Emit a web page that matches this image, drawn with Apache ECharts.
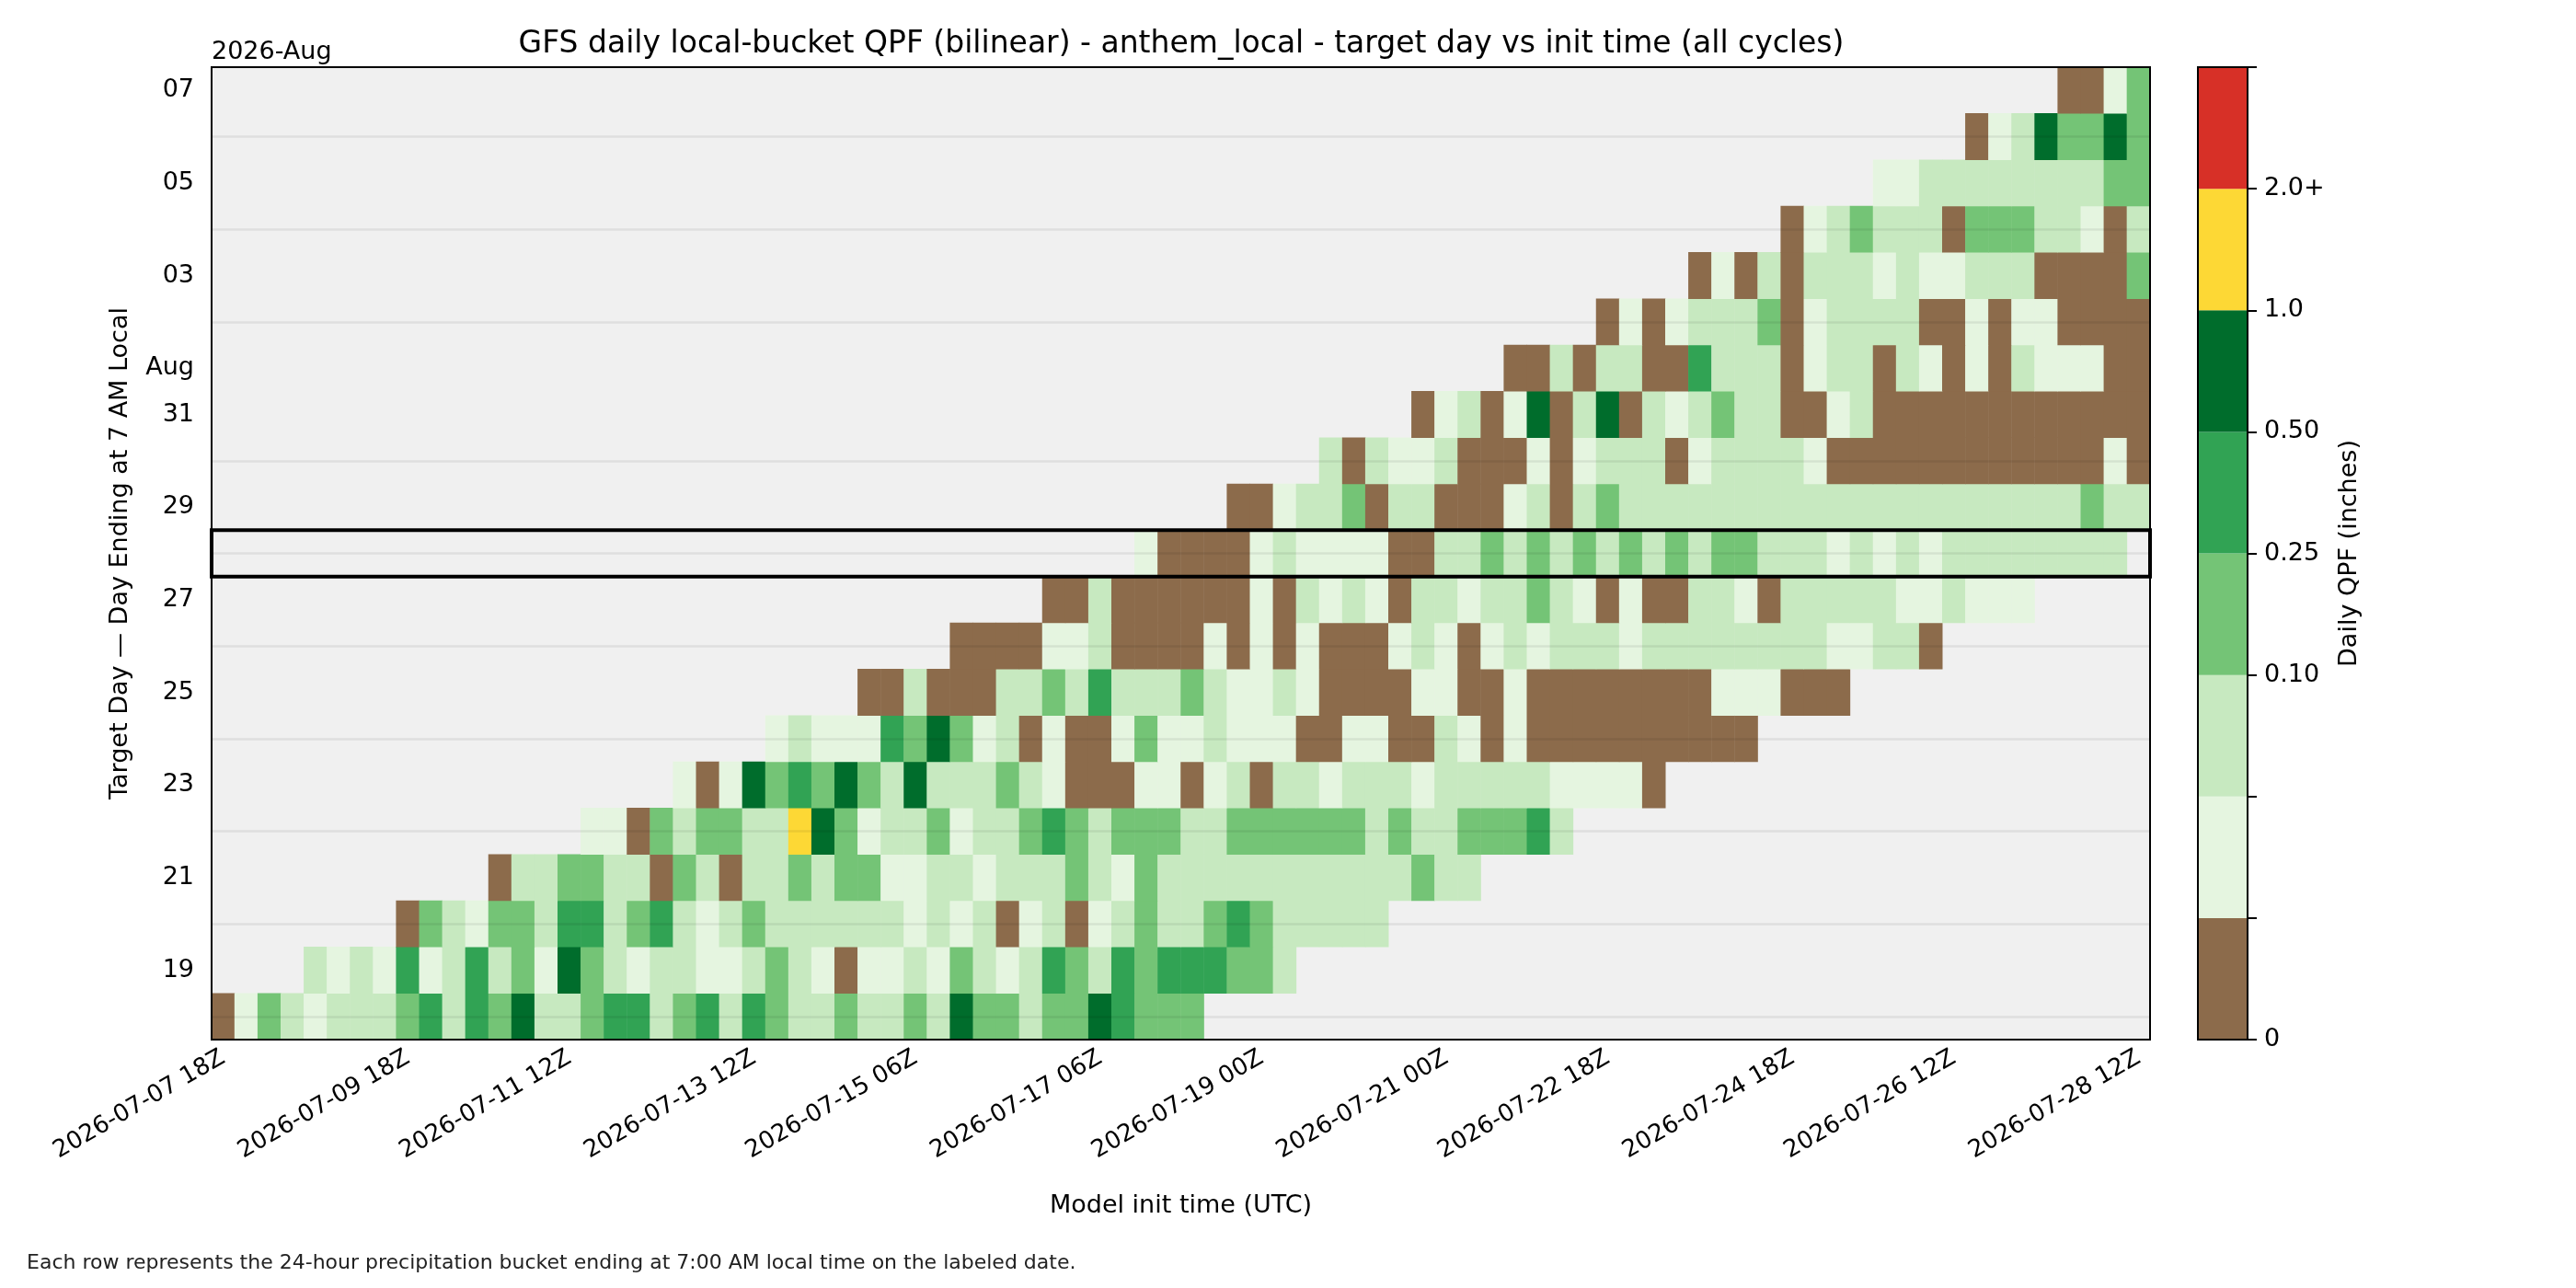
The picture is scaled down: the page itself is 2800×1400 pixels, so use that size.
<!DOCTYPE html>
<html>
<head>
<meta charset="utf-8">
<script src="https://cdn.jsdelivr.net/npm/echarts@6/dist/echarts.min.js"></script>
<style>
  html, body { margin: 0; padding: 0; background: #fff; }
  #chart { width: 2800px; height: 1400px; }
</style>
</head>
<body>
<div id="chart"></div>
<script>
// model init cycles (6-hourly), 2026-07-07 18Z .. 2026-07-28 12Z
var firstInit = Date.UTC(2026, 6, 7, 18);
var nCycles = 84;
var initTimes = [];
function pad2(n) { return (n < 10 ? '0' : '') + n; }
for (var i = 0; i < nCycles; i++) {
  var d = new Date(firstInit + i * 6 * 3600 * 1000);
  initTimes.push(d.getUTCFullYear() + '-' + pad2(d.getUTCMonth() + 1) + '-' + pad2(d.getUTCDate()) + ' ' + pad2(d.getUTCHours()) + 'Z');
}

var xTickLabels = ['2026-07-07 18Z', '2026-07-09 18Z', '2026-07-11 12Z', '2026-07-13 12Z',
  '2026-07-15 06Z', '2026-07-17 06Z', '2026-07-19 00Z', '2026-07-21 00Z',
  '2026-07-22 18Z', '2026-07-24 18Z', '2026-07-26 12Z', '2026-07-28 12Z'];

var targetDays = ['07-18', '07-19', '07-20', '07-21', '07-22', '07-23', '07-24', '07-25',
  '07-26', '07-27', '07-28', '07-29', '07-30', '07-31', '08-01', '08-02', '08-03',
  '08-04', '08-05', '08-06', '08-07'];

var dayTickText = {
  '07-19': '19', '07-21': '21', '07-23': '23', '07-25': '25', '07-27': '27',
  '07-29': '29', '07-31': '31', '08-01': 'Aug', '08-03': '03', '08-05': '05', '08-07': '07'
};

var highlightDay = '07-28';

// first init-cycle column that has a value, one per target day
var rowStart = [0, 4, 8, 12, 16, 20, 24, 28, 32, 36, 40, 44, 48, 52, 56, 60, 64, 68, 72, 76, 80];

// QPF bucket per cell, read left to right from rowStart (B = 0/trace, 1..6 = bins below)
var rowCodes = [
  'B1321 22234 24352 23442 34243 22322 32533 23354 333',
  '21214 12423 15321 22112 321B1 12132 12432 43444 332',
  'B3213 32442 34212 32222 22121 2B12B 12322 34322 222',
  'B2233 22B32 B2232 33112 21222 32132 22222 22222 322',
  '11B32 33226 53122 31223 43233 32233 33332 32233 342',
  '1B153 43532 52223 21BBB 11B12 B2212 22122 22211 11B',
  '12111 43531 2B1BB 13112 111BB 11BB2 1B1BB BBBBB BBB',
  'BB2BB B2232 42223 21121 BBBB1 1BB1B BBBBB BB111 BBB',
  'BBBB1 12BBB B1B1B 1BBB1 21B12 12221 22222 22211 22B',
  'BB2BB BBBB1 B2121 B2212 2321B 1BB22 1B222 22112 111',
  '1BBBB 12111 1BB22 32323 23232 33222 12121 22222 222',
  'BB122 3B22B BB12B 23222 22222 22222 22222 22322',
  '2B211 2BBB1 B1222 B1222 21BBB BBBBB BBBB1 B',
  'B12B1 5B25B 21232 2BB12 BBBBB BBBBB BB',
  'BB2B2 2BB42 22B12 2B21B 1B211 1BB',
  'B1B12 223B1 2222B B1B11 BBBB',
  'B1B2B 22212 11222 BBBB3',
  'B1232 22B33 3221B 2',
  '11222 22222 33',
  'B1253 353',
  'BB13'
];

// representative daily QPF (inches) for each bucket code
var codeValue = { 'B': 0, '1': 0.03, '2': 0.07, '3': 0.17, '4': 0.35, '5': 0.7, '6': 1.4 };

var binEdges = [0, 0.01, 0.05, 0.10, 0.25, 0.50, 1.0, 2.0];
var binColors = ['#8c6b4b', '#e5f5e0', '#c7e9c0', '#74c476', '#31a354', '#006d2c', '#fdd835', '#d73027'];
var cbTickText = ['0', '', '', '0.10', '0.25', '0.50', '1.0', '2.0+', ''];

var cells = [];
rowCodes.forEach(function (row, k) {
  var codes = row.replace(/ /g, '');
  for (var j = 0; j < codes.length; j++) {
    cells.push([rowStart[k] + j, k, codeValue[codes[j]]]);
  }
});

var pieces = binColors.map(function (c, i) {
  var p = { gte: binEdges[i], color: c };
  if (i + 1 < binEdges.length) p.lt = binEdges[i + 1];
  return p;
});

var gridLineDays = targetDays.filter(function (d) { return !(d in dayTickText); });

var FONT = 'DejaVu Sans';
var chart = echarts.init(document.getElementById('chart'), null, { renderer: 'canvas' });

var cbSeries = binColors.map(function (c) {
  return {
    type: 'bar', xAxisIndex: 1, yAxisIndex: 2, stack: 'cb', data: [1],
    barWidth: '100%', itemStyle: { color: c }, silent: true
  };
});

var option = {
  animation: false,
  textStyle: { fontFamily: FONT },
  grid: [
    { left: 230, top: 73, width: 2107, height: 1057, show: true, backgroundColor: '#f0f0f0',
      borderColor: '#000', borderWidth: 0 },
    { left: 2389, top: 73, width: 54, height: 1057, show: false }
  ],
  xAxis: [
    {
      type: 'category', gridIndex: 0, data: initTimes,
      name: 'Model init time (UTC)', nameLocation: 'middle', nameGap: 167,
      nameTextStyle: { fontSize: 27, color: '#000', fontFamily: FONT },
      axisLine: { show: false },
      axisTick: {
        alignWithLabel: true, length: 10, lineStyle: { color: '#000', width: 2 },
        interval: function (idx, val) { return xTickLabels.indexOf(val) >= 0; }
      },
      axisLabel: {
        rotate: 30, fontSize: 26, color: '#000', margin: 18, fontFamily: FONT,
        interval: function (idx, val) { return xTickLabels.indexOf(val) >= 0; }
      },
      splitLine: { show: false }
    },
    { type: 'category', gridIndex: 1, data: ['qpf'], show: false }
  ],
  yAxis: [
    {
      type: 'category', gridIndex: 0, data: targetDays,
      name: 'Target Day \u2014 Day Ending at 7 AM Local', nameLocation: 'middle', nameGap: 86, nameRotate: 90,
      nameTextStyle: { fontSize: 27, color: '#000', fontFamily: FONT },
      axisLine: { show: false },
      axisTick: {
        alignWithLabel: true, length: 10, lineStyle: { color: '#000', width: 2 },
        interval: function (idx, val) { return val in dayTickText; }
      },
      axisLabel: {
        fontSize: 27, color: '#000', margin: 19, fontFamily: FONT,
        interval: function (idx, val) { return val in dayTickText; },
        formatter: function (val) { return dayTickText[val] || ''; }
      },
      splitLine: { show: false }
    },
    {
      // minor ticks, one per target day
      type: 'category', gridIndex: 0, data: targetDays, position: 'left',
      axisLine: { show: false }, axisLabel: { show: false }, splitLine: { show: false },
      axisTick: { alignWithLabel: true, interval: 0, length: 6, lineStyle: { color: '#000', width: 1.6 } }
    },
    {
      type: 'value', gridIndex: 1, min: 0, max: 8, interval: 1, position: 'right',
      name: 'Daily QPF (inches)', nameLocation: 'middle', nameGap: 97, nameRotate: 90,
      nameTextStyle: { fontSize: 27, color: '#000', fontFamily: FONT },
      axisLine: { show: true, lineStyle: { color: '#000', width: 2 } },
      axisTick: { show: true, length: 10, lineStyle: { color: '#000', width: 2 } },
      axisLabel: {
        fontSize: 27, color: '#000', margin: 18, fontFamily: FONT,
        formatter: function (v) { return cbTickText[Math.round(v)]; }
      },
      splitLine: { show: false }
    }
  ],
  visualMap: {
    type: 'piecewise', show: false, seriesIndex: 0, dimension: 2, pieces: pieces
  },
  series: [
    {
      type: 'heatmap', xAxisIndex: 0, yAxisIndex: 0, data: cells, progressive: 0,
      itemStyle: { borderWidth: 0 },
      emphasis: { disabled: true },
      markLine: {
        silent: true, symbol: ['none', 'none'], animation: false,
        label: { show: false },
        lineStyle: { color: 'rgba(0,0,0,0.07)', width: 2.5, type: 'solid' },
        data: gridLineDays.map(function (d) { return { yAxis: d }; })
      }
    }
  ].concat(cbSeries)
};

chart.setOption(option);

// frame, highlighted target row and loose texts
var yHi = chart.convertToPixel({ yAxisIndex: 0 }, highlightDay);
var rowH = 1057 / targetDays.length;
chart.setOption({
  graphic: [
    { type: 'rect', z: 100, silent: true,
      shape: { x: 230, y: 73, width: 2107, height: 1057 },
      style: { fill: 'none', stroke: '#000', lineWidth: 2 } },
    { type: 'rect', z: 100, silent: true,
      shape: { x: 2389, y: 73, width: 54, height: 1057 },
      style: { fill: 'none', stroke: '#000', lineWidth: 2 } },
    { type: 'rect', z: 101, silent: true,
      shape: { x: 230, y: yHi - rowH / 2, width: 2107, height: rowH },
      style: { fill: 'none', stroke: '#000', lineWidth: 4 } },
    { type: 'text', z: 100, silent: true,
      style: { text: 'GFS daily local-bucket QPF (bilinear) - anthem_local - target day vs init time (all cycles)',
        x: 1284, y: 48, align: 'center', verticalAlign: 'middle', textAlign: 'center', textVerticalAlign: 'middle',
        font: '33px "DejaVu Sans"', fill: '#000' } },
    { type: 'text', z: 100, silent: true,
      style: { text: '2026-Aug', x: 230, y: 57, align: 'left', verticalAlign: 'middle',
        textAlign: 'left', textVerticalAlign: 'middle', font: '27px "DejaVu Sans"', fill: '#000' } },
    { type: 'text', z: 100, silent: true,
      style: { text: 'Each row represents the 24-hour precipitation bucket ending at 7:00 AM local time on the labeled date.',
        x: 29, y: 1373, align: 'left', verticalAlign: 'middle', textAlign: 'left', textVerticalAlign: 'middle',
        font: '22px "DejaVu Sans"', fill: '#222' } }
  ]
});
</script>
</body>
</html>
